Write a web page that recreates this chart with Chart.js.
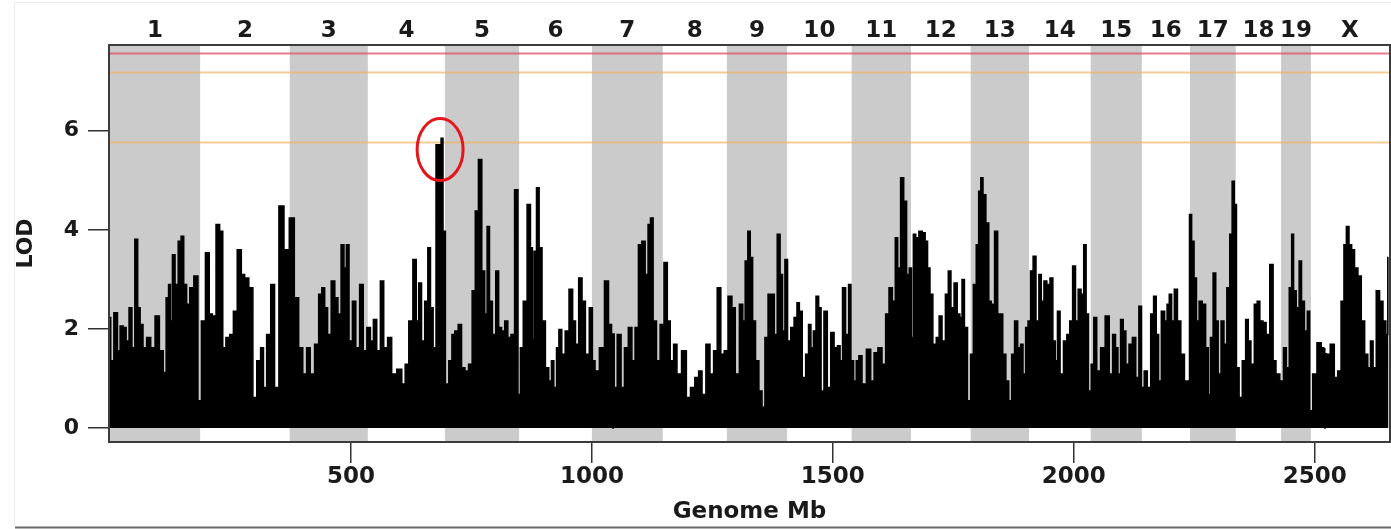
<!DOCTYPE html>
<html>
<head>
<meta charset="utf-8">
<script src="https://cdn.jsdelivr.net/npm/chart.js@4.4.1/dist/chart.umd.min.js"></script>
<style>
  html, body { margin: 0; padding: 0; background: #ffffff; }
  #wrap { width: 1391px; height: 529px; position: relative; }
</style>
</head>
<body>
<div id="wrap"><canvas id="c"></canvas></div>
<script>
// ---- chromosomes (names and cumulative end positions, Mb) ----
const chromNames = ['1','2','3','4','5','6','7','8','9','10','11','12','13','14','15','16','17','18','19','X'];
const chromEndsMb = [187, 373, 535, 695, 849, 1000, 1147, 1280, 1405, 1539, 1662, 1786, 1907, 2035, 2141, 2241, 2336, 2430, 2492, 2654];

// ---- axis ticks ----
const xTickValues = [500, 1000, 1500, 2000, 2500];
const yTickValues = [0, 2, 4, 6];

// ---- significance thresholds (LOD) ----
const thresholdRed = [7.57];
const thresholdOrange = [7.19, 5.77];

// ---- highlighted peak ----
const peakMb = 685;
const peakLod = 5.62;

// ---- genome scan: position (Mb) and LOD ----
const positionsMb = [
  0,3,13,18,24,31,36,43,48,55,60,65,72,80,89,98,107,114,119,124,127,132,138,145,150,156,162,169,179,186,
  193,203,209,216,224,231,237,244,253,259,269,276,283,293,300,309,316,321,329,338,345,356,366,378,387,396,404,412,419,430,
  436,443,448,455,463,470,476,483,488,493,499,507,513,523,528,538,543,550,557,565,571,581,588,602,609,616,624,633,638,643,
  650,656,663,667,674,679,685,689,693,699,707,712,719,726,733,740,748,755,761,768,775,780,785,790,797,804,809,816,822,829,
  835,844,849,854,861,870,875,
  878,882,888,893,900,907,914,918,924,929,934,941,948,957,963,969,976,983,990,999,1003,1010,1021,1031,1038,1043.5,1044,1044.5,1048,1057,
  1064,1071,1080,1086,1093,1100,1107,1114,1119,1124,1130,1138,1145,1154,1159,1166,1173,1180,1192,1200,1209,1218,1225,1232,1241,1249,1256,1264,1271,1278,
  1287,1294,1301,1311,
  1315,1321,1326,1331,1336,1343,1350,1356,1362,1369,1376,1381,1388,1393,1398,1403,1409,1416,1423,1428,1433,1440,1447,1452,1457,1462,1468,1473,1478,1485,
  1492,1499,1506,1513,1517,1523,1530,1535,1540,1546,1551,1557,1564,1575,1582,1589,1598,1606,1613,1620,1627,1632,1637,1644,1650,1656,1661,1665,1669,1675,
  1682,1689,1694,1699,1704,1711,1718,1723,1730,1737,1742,1748,
  1755,1761,1766,1770,1776,1783,1788,1795,1800,1805,1809,1814,1821,1826,1831,1840,1844,1849,1856,1862,1868,1874,1880,1887,1892,1897,1903,1907,1913,1918,
  1925,1930,1935,1941,1947,1954,1959,1964,1968,1975,1982,1989,1994,2001,2006,2012,2018,2023,2028,2033,2039,2044,2051,2060,2070,2077,2084,2089,2094,2100,
  2105,2111,2118,2125,2132,2138,2143,2149,2156,2163,2168,2174,2178,2185,2192,
  2195,2201,2205,2212,2218,2226,2233,2238,2242,2247,2252,2257,2263,2270,2277,2281,2286,2292,2297,2302,2309,2314,2321,2326,2331,2335,2340,2346,2353,2360,
  2364,2371,2378,2383,2389,2396,2402,2411,2416,2423,2432,2438,2444,2450,2454,2458,2465,2470,2475,2482,2487,2492,2499,2510,2517,2520.5,2521,2521.5,2527,2537,
  2544,2551,2558,2563,2568,2574,2579,2586,2593,2600,2607,2613,2618,2624,2631,2638,2645,2650,2653
];
const lodScores = [
  2.23,1.36,2.33,1.56,2.06,2.03,1.76,2.43,1.62,3.81,2.43,2.09,1.62,1.83,1.62,2.26,1.56,1.12,2.63,2.9,2.16,3.5,2.9,3.77,3.87,2.9,2.5,2.83,3.07,0.55,
  2.16,3.54,2.3,2.26,4.11,3.97,1.62,1.83,1.89,2.36,3.6,3.1,3.03,2.83,0.62,1.36,1.62,0.82,1.89,2.9,0.82,4.48,3.6,4.24,2.63,1.62,1.09,1.62,1.09,1.69,
  2.7,2.83,2.43,1.89,2.97,2.63,2.3,3.7,3.23,3.7,1.76,2.56,1.62,2.9,1.56,2.03,1.76,2.19,1.56,2.97,1.62,1.83,1.09,1.19,0.89,1.29,2.16,3.4,2.16,2.93,
  1.76,2.56,3.64,2.43,1.62,5.72,5.72,5.85,3.97,0.89,1.36,1.89,1.96,2.09,1.22,1.15,1.29,2.77,4.38,5.42,3.17,2.3,4.07,2.56,1.89,3.17,2.03,1.96,2.16,1.83,
  1.89,4.81,0.68,1.62,2.56,4.51,3.64,
  1.8,3.57,4.85,3.64,2.16,1.22,0.95,1.36,0.82,1.62,1.99,1.49,1.96,2.8,2.16,1.69,3.03,2.56,1.49,2.43,1.36,1.15,1.62,2.97,2.09,1.9,0.0,1.9,0.82,1.89,
  0.82,1.62,2.03,1.36,2.03,3.7,3.77,3.1,4.11,4.24,2.16,1.36,2.09,3.34,2.16,1.36,1.69,1.09,1.56,0.62,0.82,1.02,1.15,0.68,1.69,1.09,1.56,2.83,1.49,1.56,
  2.66,2.43,1.09,2.5,
  2.16,3.37,3.97,3.44,2.16,1.36,0.75,0.42,1.83,2.7,2.7,1.89,3.91,3.1,1.96,3.4,1.76,2.03,2.23,2.53,2.36,1.02,1.49,2.09,1.62,1.96,2.66,2.43,0.75,2.36,
  0.82,1.93,1.62,1.66,1.36,2.83,1.89,2.9,1.36,0.95,1.36,1.46,0.89,1.59,0.95,1.52,1.62,1.29,2.3,2.83,2.56,3.84,3.23,5.05,4.58,3.1,3.23,1.83,3.91,3.84,
  3.97,3.94,3.77,3.23,2.7,1.69,1.83,2.26,1.76,2.7,3.17,2.43,
  2.93,2.3,2.23,3.0,2.03,0.55,1.49,2.9,3.7,4.78,5.05,4.71,4.14,2.56,2.5,3.97,2.3,2.3,1.49,0.95,0.55,1.49,2.16,1.62,1.69,1.09,2.03,2.16,3.17,3.47,
  2.16,3.1,2.56,2.97,2.9,3.03,1.76,1.36,2.36,1.09,1.76,1.89,2.16,3.27,2.16,2.8,2.7,3.7,2.3,0.75,1.29,2.23,1.15,1.62,2.26,1.09,1.89,1.62,1.09,2.19,
  1.96,1.29,1.69,1.83,1.02,2.46,0.82,1.15,0.82,2.3,2.66,1.89,0.95,2.36,2.16,
  2.5,2.7,2.16,2.8,2.16,1.49,0.95,0.95,4.31,3.77,3.03,2.16,2.56,2.5,1.62,0.68,1.83,3.13,2.16,1.09,2.16,1.69,2.83,3.91,4.98,4.51,1.22,0.62,1.36,2.19,
  1.76,1.29,2.5,2.56,2.16,2.13,1.89,3.3,1.36,1.09,0.95,1.62,1.22,2.83,3.91,2.77,2.43,3.37,2.56,1.96,2.36,0.35,1.09,1.72,1.62,1.6,0.0,1.5,1.49,1.69,
  1.02,1.15,2.56,3.7,4.07,3.7,3.6,3.23,3.07,2.16,1.49,1.22,1.76,1.22,2.77,2.56,2.16,1.89,3.44
];

// ---- derived structures for the library ----
const chromStartsMb = chromEndsMb.map((e, i) => i === 0 ? 0 : chromEndsMb[i - 1]);
const chromCentersMb = chromEndsMb.map((e, i) => (chromStartsMb[i] + e) / 2);
const scanPoints = positionsMb.map((p, i) => ({ x: p, y: lodScores[i] }));

const FONT = "'DejaVu Sans', 'Liberation Sans', Arial, sans-serif";

const decorPlugin = {
  id: 'decor',
  beforeDatasetsDraw(chart) {
    const { ctx, chartArea: a, scales } = chart;
    const x = scales.x, y = scales.y;
    ctx.save();
    ctx.fillStyle = '#cbcbcb';
    chromEndsMb.forEach((end, i) => {
      if (i % 2 === 0 && chromNames[i] !== 'X') {
        const x0 = x.getPixelForValue(chromStartsMb[i]);
        const x1 = x.getPixelForValue(end);
        ctx.fillRect(x0, a.top, x1 - x0, a.bottom - a.top);
      }
    });
    ctx.lineWidth = 2;
    ctx.strokeStyle = 'rgba(226, 80, 105, 0.75)';
    thresholdRed.forEach(v => {
      const py = Math.round(y.getPixelForValue(v)) + 0.5;
      ctx.beginPath(); ctx.moveTo(a.left, py); ctx.lineTo(a.right, py); ctx.stroke();
    });
    ctx.strokeStyle = 'rgba(236, 178, 95, 0.65)';
    thresholdOrange.forEach(v => {
      const py = Math.round(y.getPixelForValue(v)) + 0.5;
      ctx.beginPath(); ctx.moveTo(a.left, py); ctx.lineTo(a.right, py); ctx.stroke();
    });
    ctx.restore();
  },
  afterDatasetsDraw(chart) {
    const { ctx, chartArea: a, scales } = chart;
    ctx.save();
    ctx.strokeStyle = '#3c3c3c';
    ctx.lineWidth = 2;
    ctx.strokeRect(a.left - 1, a.top - 1, a.right - a.left + 2, a.bottom - a.top + 2);
    const cx = scales.x.getPixelForValue(peakMb);
    const cy = scales.y.getPixelForValue(peakLod);
    ctx.strokeStyle = '#e4161b';
    ctx.lineWidth = 3;
    ctx.beginPath();
    ctx.ellipse(cx, cy, 23, 31, 0, 0, Math.PI * 2);
    ctx.stroke();
    ctx.restore();
  },
  afterDraw(chart) {
    const { ctx, width, height } = chart;
    ctx.save();
    ctx.strokeStyle = '#ececec';
    ctx.lineWidth = 1;
    ctx.beginPath();
    ctx.moveTo(15, 2.5); ctx.lineTo(width, 2.5);
    ctx.moveTo(14.5, 2); ctx.lineTo(14.5, height - 2);
    ctx.stroke();
    ctx.strokeStyle = '#6a6a6a';
    ctx.lineWidth = 2;
    ctx.beginPath();
    ctx.moveTo(15, height - 1.5); ctx.lineTo(width, height - 1.5);
    ctx.stroke();
    ctx.restore();
  }
};

new Chart(document.getElementById('c'), {
  type: 'line',
  data: {
    datasets: [{
      label: 'LOD',
      data: scanPoints,
      xAxisID: 'x',
      yAxisID: 'y',
      borderColor: '#000000',
      backgroundColor: '#000000',
      borderWidth: 1.5,
      pointRadius: 0,
      stepped: 'middle',
      fill: 'origin'
    }]
  },
  options: {
    responsive: true,
    maintainAspectRatio: false,
    animation: false,
    devicePixelRatio: 1,
    layout: { padding: { left: 0, right: 2, top: 0, bottom: 0 } },
    plugins: { legend: { display: false }, tooltip: { enabled: false } },
    scales: {
      x: {
        type: 'linear',
        position: 'bottom',
        min: 0,
        max: 2654,
        border: { display: false },
        grid: { drawOnChartArea: false, drawTicks: true, tickLength: 22, color: '#333', tickColor: '#333', lineWidth: 1.5 },
        afterBuildTicks: s => { s.ticks = xTickValues.map(v => ({ value: v })); },
        ticks: {
          autoSkip: false, maxRotation: 0, minRotation: 0, padding: 0,
          color: '#1a1a1a',
          font: { family: FONT, size: 23, weight: 'bold' },
          callback: v => String(v)
        },
        title: {
          display: true, text: 'Genome Mb', color: '#1a1a1a',
          font: { family: FONT, size: 23, weight: 'bold' },
          padding: { top: 0, bottom: 3 }
        },
        afterFit: s => { s.height = 88; }
      },
      xTop: {
        type: 'linear',
        position: 'top',
        min: 0,
        max: 2654,
        border: { display: false },
        grid: { display: false, drawTicks: false },
        afterBuildTicks: s => { s.ticks = chromCentersMb.map(v => ({ value: v })); },
        ticks: {
          autoSkip: false, maxRotation: 0, minRotation: 0, padding: 1,
          color: '#1a1a1a',
          font: { family: FONT, size: 23, weight: 'bold' },
          callback: (v, i) => chromNames[i]
        },
        afterFit: s => { s.height = 46; }
      },
      y: {
        type: 'linear',
        position: 'left',
        min: -0.26,
        max: 7.71,
        border: { display: false },
        grid: { drawOnChartArea: false, drawTicks: true, tickLength: 22, color: '#333', tickColor: '#333', lineWidth: 1.5 },
        afterBuildTicks: s => { s.ticks = yTickValues.map(v => ({ value: v })); },
        ticks: {
          autoSkip: false, padding: 9,
          color: '#1a1a1a',
          font: { family: FONT, size: 22, weight: 'bold' },
          callback: v => String(v)
        },
        title: {
          display: true, text: 'LOD', color: '#1a1a1a',
          font: { family: FONT, size: 22, weight: 'bold' },
          padding: { top: 13, bottom: 0 }
        },
        afterFit: s => { s.width = 110; }
      }
    }
  },
  plugins: [decorPlugin]
});
</script>
</body>
</html>
